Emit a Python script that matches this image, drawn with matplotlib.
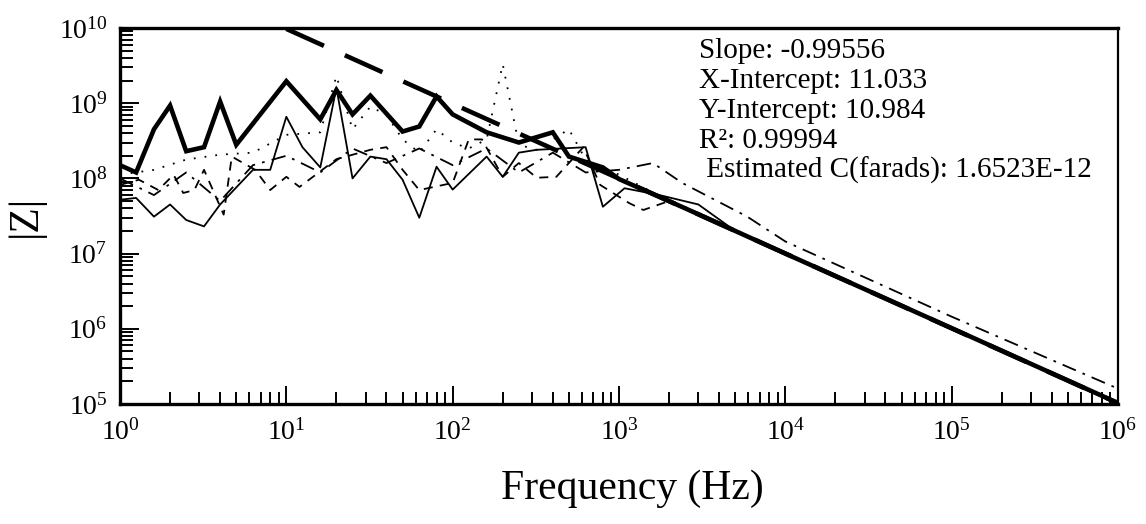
import matplotlib
matplotlib.use('Agg')
import matplotlib.pyplot as plt
from matplotlib.ticker import LogLocator, LogFormatterMathtext, NullFormatter, FixedLocator

plt.rcParams['font.family'] = ['Liberation Serif', 'DejaVu Serif']
plt.rcParams['mathtext.fontset'] = 'custom'
plt.rcParams['mathtext.rm'] = 'Liberation Serif'
plt.rcParams['mathtext.it'] = 'Liberation Serif:italic'

# ---- data ----
main_f = [1, 1.25, 1.6, 2, 2.5, 3.2, 4, 5, 10, 16, 20, 25, 32, 50, 63, 80, 100, 160, 250,
          400, 500, 800, 1000, 1600, 2500, 4000, 1e4, 1e5, 1e6]
main_z = [1.5e8, 1.2e8, 4.5e8, 9.3e8, 2.3e8, 2.6e8, 1.05e9, 2.8e8, 1.96e9, 6.1e8, 1.5e9, 7.1e8,
          1.26e9, 4.2e8, 4.9e8, 1.23e9, 7.1e8, 4.1e8, 3.0e8, 4.1e8, 1.95e8, 1.4e8, 9.8e7,
          6.2e7, 4.0e7, 2.5e7, 1.0e7, 1.02e6, 1.03e5]

solid_f = [1, 1.25, 1.6, 2, 2.5, 3.2, 4, 6.3, 8, 10, 12.5, 16, 20, 25, 32, 40, 50, 63, 80, 100,
           160, 200, 250, 320, 630, 800, 1080, 1750, 3000, 5000, 1e4, 1e5, 1e6]
solid_z = [5.2e7, 5.5e7, 3.1e7, 4.5e7, 2.8e7, 2.3e7, 4.5e7, 1.3e8, 1.3e8, 6.6e8, 2.6e8, 1.4e8,
           1.6e9, 1.0e8, 1.95e8, 1.8e8, 9.6e7, 3.0e7, 1.43e8, 7.1e7, 1.95e8, 1.05e8, 2.2e8,
           2.4e8, 2.6e8, 4.2e7, 7.4e7, 6.0e7, 4.5e7, 2.0e7, 1.0e7, 1.0e6, 1.0e5]

dot_f = [1, 1.6, 2.5, 4, 6.3, 10, 16, 20, 25, 32, 40, 50, 63, 80, 100, 125, 160, 200, 250, 320,
         400, 500, 630, 1000, 1600, 4000, 1e4, 1e5, 1e6]
dot_z = [1.12e8, 1.3e8, 1.78e8, 2.07e8, 2.2e8, 3.8e8, 4.1e8, 2.3e9, 4.5e8, 9.0e8, 7.0e8, 3.3e8,
         2.2e8, 4.5e8, 3.0e8, 2.5e8, 3.3e8, 3.3e9, 2.8e8, 2.4e8, 3.3e8, 4.5e8, 1.78e8, 1.12e8,
         6.5e7, 2.6e7, 1.0e7, 1.0e6, 1.0e5]

dash_f = [1, 1.3, 1.7, 2.1, 2.4, 2.8, 3.2, 4.2, 4.7, 6.5, 8, 10, 12, 20, 32, 40, 50, 63, 100,
          125, 150, 200, 250, 320, 420, 610, 770, 1150, 1400, 2000, 4000, 1e4, 1e5, 1e6]
dash_z = [8.2e7, 9.6e7, 7.0e7, 1.12e8, 6.4e7, 7.0e7, 1.3e8, 3.3e7, 1.95e8, 1.3e8, 7.0e7, 1.05e8,
          7.7e7, 1.8e8, 2.4e8, 2.6e8, 1.3e8, 7.0e7, 8.7e7, 3.3e8, 3.3e8, 1.05e8, 1.6e8, 1.02e8,
          1.05e8, 2.6e8, 8.2e7, 4.7e7, 3.8e7, 5.0e7, 2.5e7, 1.0e7, 1.0e6, 1.0e5]

dd_f = [1, 1.6, 2.5, 4, 6.3, 10, 16, 25, 40, 63, 100, 160, 250, 400, 630, 1000, 1600, 2400,
        5900, 1e4, 1e5, 1e6]
dd_z = [1.0e8, 6e7, 1.2e8, 5e7, 1.5e8, 2e8, 1.2e8, 2.5e8, 1.6e8, 2.5e8, 1.5e8, 2.5e8, 1.2e8,
        2.2e8, 1.2e8, 1.3e8, 1.6e8, 8.7e7, 3.1e7, 1.45e7, 1.45e6, 1.6e5]

fit_f = [10, 1e6]
fit_z = [9.73e9, 1.025e5]

x_ticks = [1, 10, 100, 1e3, 1e4, 1e5, 1e6]
y_ticks = [1e5, 1e6, 1e7, 1e8, 1e9, 1e10]

fit_lines = ["Slope: -0.99556", "X-Intercept: 11.033", "Y-Intercept: 10.984",
             "R\u00b2: 0.99994", " Estimated C(farads): 1.6523E-12"]

x_label = "Frequency (Hz)"
y_label = "|Z|"

# ---- figure ----
W, H = 1146, 524
fig = plt.figure(figsize=(W / 100, H / 100), dpi=100)
ax = fig.add_axes([120 / W, 1 - 404 / H, 998 / W, 376 / H])

thin = 1.3
ax.plot(dd_f, dd_z, color='black', lw=thin, ls=(0, (8, 4, 1.5, 4)))
ax.plot(dash_f, dash_z, color='black', lw=thin, ls=(0, (5, 4)))
ax.plot(dot_f, dot_z, color='black', lw=thin, ls=(0, (1, 5)))
ax.plot(solid_f, solid_z, color='black', lw=thin, ls='-')
ax.plot(main_f, main_z, color='black', lw=3.3, ls='-', solid_joinstyle='miter')
ax.plot(fit_f, fit_z, color='black', lw=3.3, ls=(0, (9, 5)), dash_capstyle='butt')

ax.set_xscale('log')
ax.set_yscale('log')
ax.set_xlim(1, 1e6)
ax.set_ylim(1e5, 1e10)

for a, t in ((ax.xaxis, x_ticks), (ax.yaxis, y_ticks)):
    a.set_major_locator(FixedLocator(t))
    a.set_minor_locator(LogLocator(base=10, subs=range(2, 10), numticks=12))
    a.set_major_formatter(LogFormatterMathtext())
    a.set_minor_formatter(NullFormatter())

ax.tick_params(which='both', direction='in', top=False, right=False, width=1.4, labelsize=20)
ax.tick_params(which='minor', labelbottom=False, labelleft=False)
ax.tick_params(axis='x', which='major', length=13, pad=11)
ax.tick_params(axis='x', which='minor', length=9)
ax.tick_params(axis='y', which='major', length=14, pad=9)
ax.tick_params(axis='y', which='minor', length=9)

for side, w in (('top', 2.4), ('bottom', 2.4), ('left', 2.4), ('right', 1.6)):
    ax.spines[side].set_linewidth(w)

ax.set_xlabel(x_label, fontsize=30)
ax.xaxis.set_label_coords((632 - 120) / 998, (404 - 470) / 376)
ax.set_ylabel(y_label, fontsize=30, labelpad=10)

ys = [58, 88, 118, 148, 178]
for line, yb in zip(fit_lines, ys):
    fig.text(699 / W, 1 - yb / H, line, fontsize=21, va='baseline', ha='left')

fig.savefig('out.png', dpi=100)
